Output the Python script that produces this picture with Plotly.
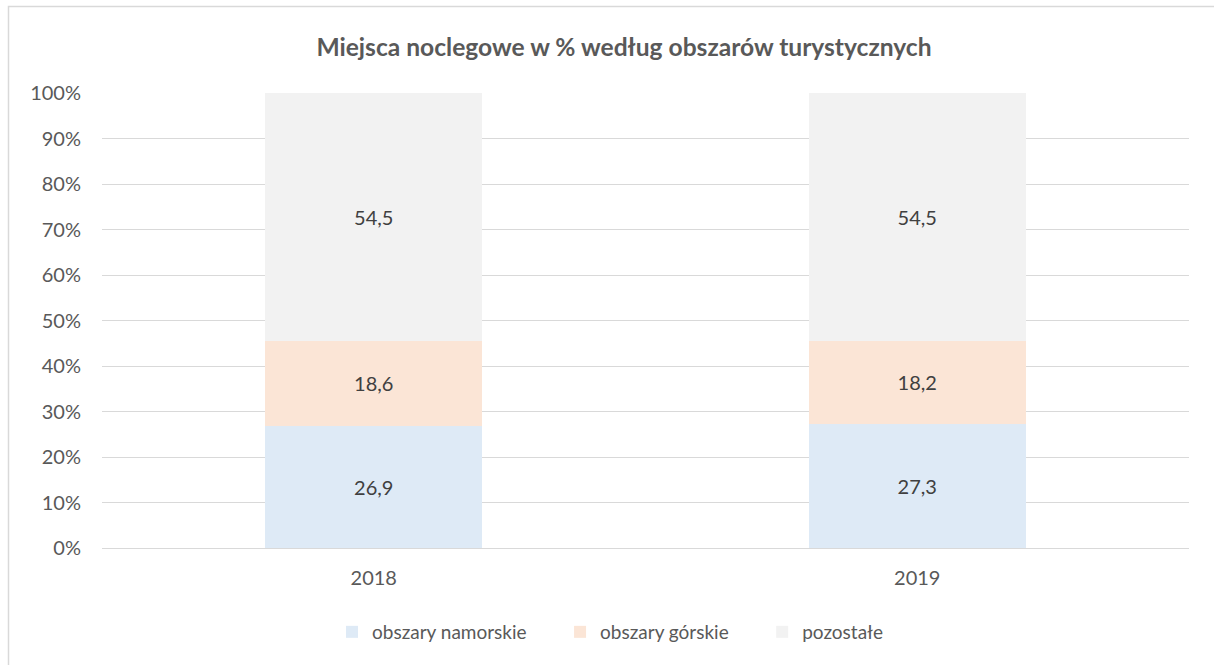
import plotly.graph_objects as go

years = ["2018", "2019"]
namorskie = [26.9, 27.3]
gorskie = [18.6, 18.2]
pozostale = [54.5, 54.5]
series_names = ["obszary namorskie", "obszary górskie", "pozostałe"]
colors = ["#DEEAF6", "#FBE5D6", "#F2F2F2"]
y_ticks = [0, 10, 20, 30, 40, 50, 60, 70, 80, 90, 100]
y_tick_text = [f"{v}%" for v in y_ticks]

FONT = "Lato, Open Sans, sans-serif"
W, H = 1214, 665
L, R, T, B = 102, 25, 93, 117
pw, ph = W - L - R, H - T - B

def px_x(x):
    return (x - L) / pw

def px_y(y):
    return (H - B - y) / ph

pad = "\u2003\u2003"
fig = go.Figure()
for i, (name, vals, col) in enumerate(zip(series_names, [namorskie, gorskie, pozostale], colors)):
    legend_name = name + (pad if i < len(series_names) - 1 else "")
    fig.add_trace(go.Bar(
        x=years, y=vals, name=legend_name, marker=dict(color=col, line=dict(width=0)),
        texttemplate="%{y:.1f}", textposition="inside", insidetextanchor="middle",
        textfont=dict(family=FONT, size=20, color="#404040"),
        hoverinfo="skip",
    ))

fig.update_layout(
    barmode="stack", bargap=0.6, separators=", ",
    width=W, height=H,
    margin=dict(l=L, r=R, t=T, b=B, autoexpand=False),
    paper_bgcolor="white", plot_bgcolor="white",
    font=dict(family=FONT, color="#595959", size=20),
    title=dict(text="<b>Miejsca noclegowe w % według obszarów turystycznych</b>",
               x=624 / W, xanchor="center", y=1 - 47 / H, yanchor="middle",
               font=dict(family=FONT, size=24.6, color="#595959")),
    showlegend=True,
    legend=dict(orientation="h", x=px_x(610), xanchor="center", y=px_y(632), yanchor="middle",
                font=dict(family=FONT, size=19, color="#595959"), traceorder="normal",
                itemwidth=30, bgcolor="rgba(0,0,0,0)"),
    uniformtext=dict(mode=False),
)
fig.update_yaxes(range=[0, 100], tickmode="array", tickvals=y_ticks, ticktext=y_tick_text,
                 showgrid=True, gridcolor="#D9D9D9", gridwidth=1, zeroline=False, showline=False,
                 ticklabelstandoff=20, tickfont=dict(family=FONT, size=20, color="#595959"))
fig.update_xaxes(showline=True, linecolor="#D9D9D9", linewidth=1, ticks="",
                 ticklabelstandoff=12, tickfont=dict(family=FONT, size=20, color="#595959"))

fig.add_shape(type="rect", xref="paper", yref="paper",
              x0=px_x(8.5), y0=px_y(H + 20), x1=px_x(W + 20), y1=px_y(6.5),
              line=dict(color="#D9D9D9", width=1.5), fillcolor="rgba(0,0,0,0)", layer="below")

fig.write_html("out.html", config={"displayModeBar": False},
               post_script="document.body.style.margin='0';")
